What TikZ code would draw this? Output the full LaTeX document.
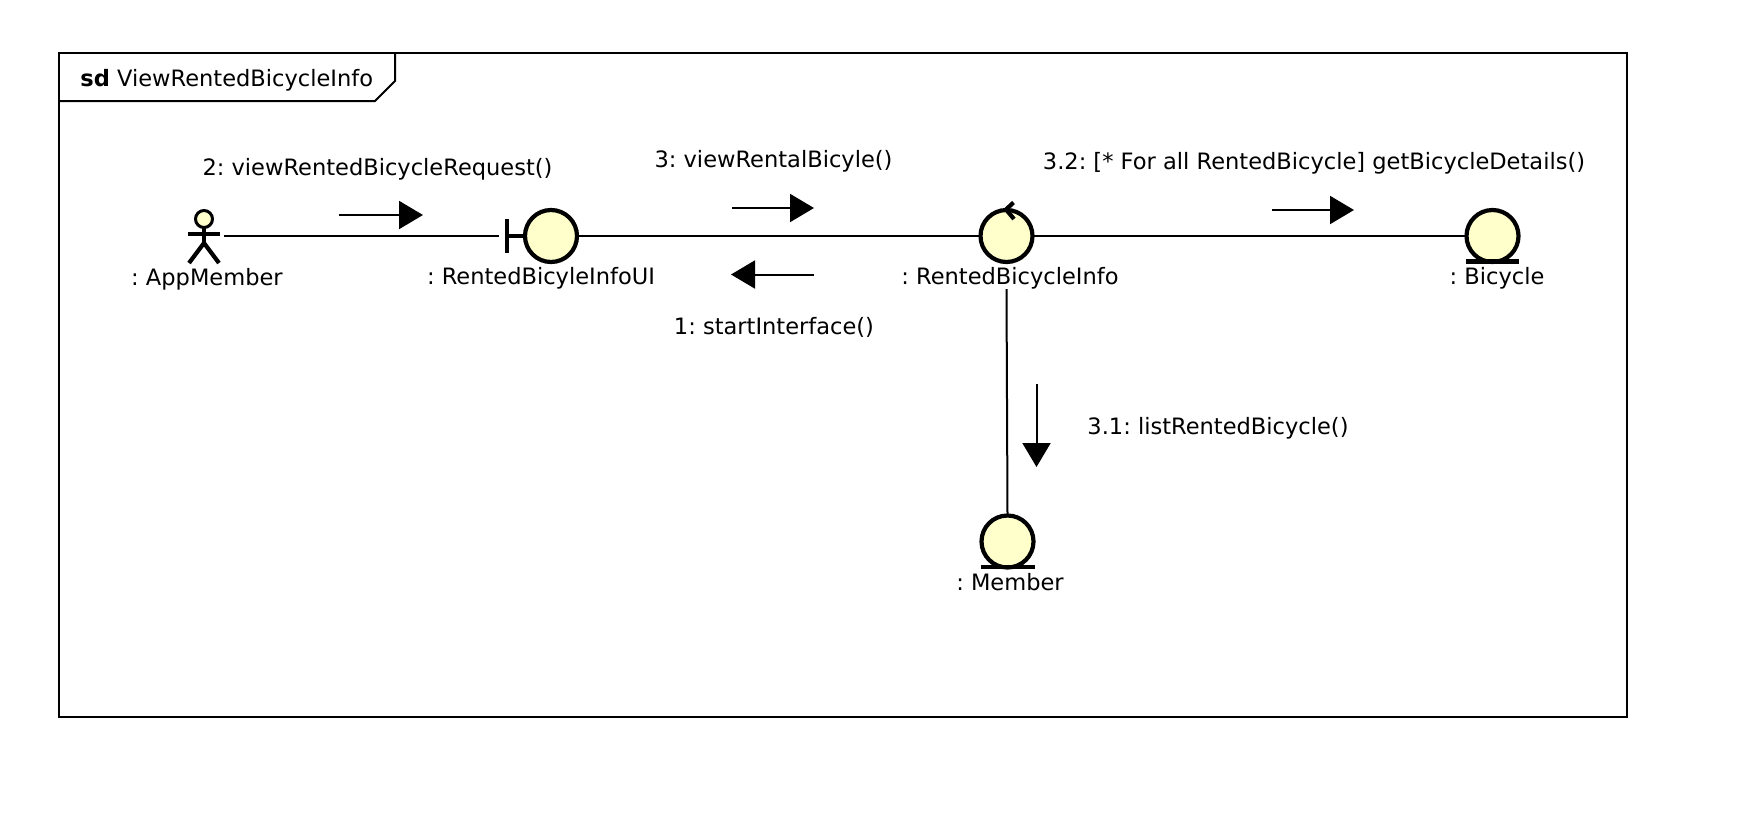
\documentclass[tikz,border=0pt]{standalone}
\usepackage{fontspec}
\setmainfont{DejaVu Sans}
\usetikzlibrary{arrows.meta}
\definecolor{robust}{HTML}{FFFFCC}
\frenchspacing
\tikzset{
	robustness/.style={circle,minimum size=26pt,inner sep=0pt,outer sep=0pt,draw=black,line width=2.1pt,fill=robust},
	thickbar/.style={line width=2.1pt},
	link/.style={line width=1pt},
	msg/.style={->,line width=1pt},
	txt/.style={inner sep=0pt,font=\fontsize{11.27}{13}\selectfont}
}

\begin{document}
\begin{tikzpicture}[x=0.5pt,y=-0.5pt,>={Triangle[length=12pt,width=14pt]}]
	\useasboundingbox (0,0) rectangle (1744,820);
	% frame and its tab
	\coordinate (frameNW) at (59,52.5);
	\coordinate (frameSE) at (1627,716.5);
	\draw [line width=1pt] (frameNW) rectangle (frameSE);
	\draw [line width=1pt] (59,101) -- (375,101) -- (395,81) -- (395,52.5);
	\node [txt,anchor=west] at (80,80) (title) {\textbf{sd} ViewRentedBicycleInfo};
	% objects
	\node [inner sep=0pt,outer sep=0pt,minimum width=19.5pt,minimum height=27pt] at (204,236) (actor) {};
	\node [robustness] at (551,236) (ui) {};
	\node [robustness] at (1006.5,236) (control) {};
	\node [robustness] at (1492.5,236) (bicycle) {};
	\node [robustness] at (1007.5,541.5) (member) {};
	% actor figure
	\draw [thickbar,fill=robust,line width=1.5pt] (204,219) circle (8.5);
	\draw [thickbar] (204,227.5) -- (204,245) (188,234) -- (220,234);
	\draw [thickbar] (189,263) -- (204,243) -- (219,263);
	% boundary, control and entity marks
	\coordinate (uibar) at (498.5,236);
	\draw [thickbar] (507,219) -- (507,253) (507,236) -- (ui.west);
	\draw [thickbar] (1013.5,202.5) -- (1006,209.5) -- (1014,219);
	\draw [thickbar] (1466,261.5) -- (1519,261.5);
	\draw [thickbar] (980.5,567) -- (1034.5,567);
	% links
	\coordinate (memberlink) at (1006.5,289);
	\draw [link] (actor.east) -- (uibar);
	\draw [link] (ui.east) -- (control.west);
	\draw [link] (control.east) -- (bicycle.west);
	\draw [link] (memberlink) -- (member.north);
	% labels
	\node [txt] at (207,279) (actorname) {: AppMember};
	\node [txt] at (541,278.5) (uiname) {: RentedBicyleInfoUI};
	\node [txt] at (1010,278.5) (controlname) {: RentedBicycleInfo};
	\node [txt] at (1497,278.5) (bicyclename) {: Bicycle};
	\node [txt] at (1010,582.5) (membername) {: Member};
	\node [txt] at (377.5,169.5) (msgtwo) {2: viewRentedBicycleRequest()};
	\node [txt] at (773.5,161.5) (msgthree) {3: viewRentalBicyle()};
	\node [txt] at (1314,163) (msgthreetwo) {3.2: [* For all RentedBicycle] getBicycleDetails()};
	\node [txt] at (774,327.5) (msgone) {1: startInterface()};
	\node [txt] at (1218,428.5) (msgthreeone) {3.1: listRentedBicycle()};
	% message arrows
	\coordinate (twotail) at (339,215);
	\coordinate (twotip) at (423,215);
	\coordinate (threetail) at (732,208);
	\coordinate (threetip) at (814,208);
	\coordinate (onetail) at (814,274.5);
	\coordinate (onetip) at (731,274.5);
	\coordinate (threetwotail) at (1272,210);
	\coordinate (threetwotip) at (1354,210);
	\coordinate (threeonetail) at (1036.5,384);
	\coordinate (threeonetip) at (1036.5,467);
	\draw [msg] (twotail) -- (twotip);
	\draw [msg] (threetail) -- (threetip);
	\draw [msg] (onetail) -- (onetip);
	\draw [msg] (threetwotail) -- (threetwotip);
	\draw [msg] (threeonetail) -- (threeonetip);
\end{tikzpicture}
\end{document}
